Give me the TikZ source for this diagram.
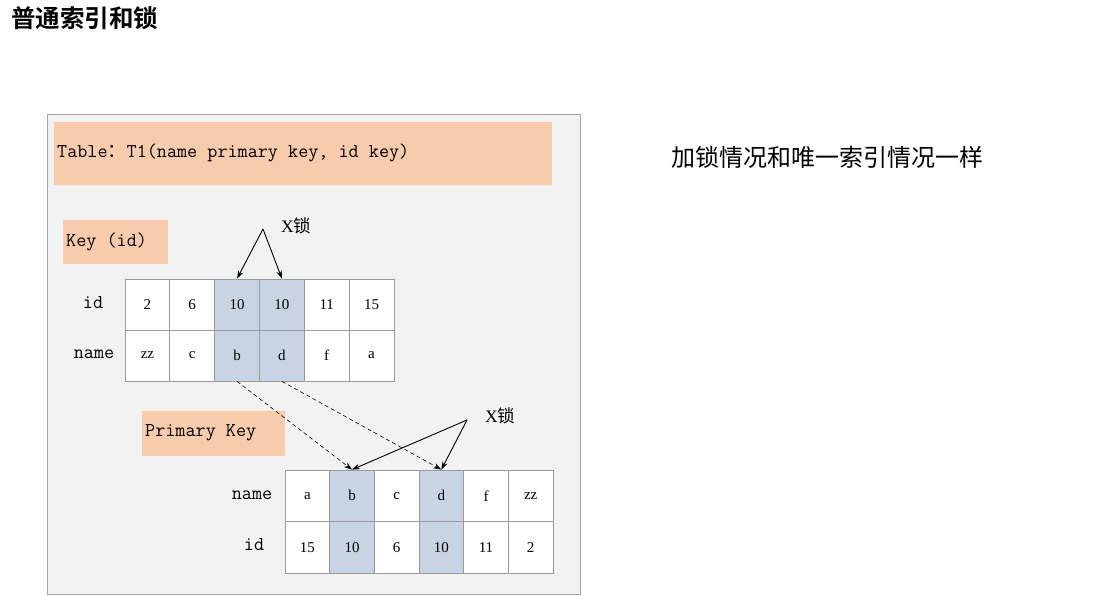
\documentclass[tikz,border=0pt]{standalone}
\usepackage{fontspec}
\setmainfont{Liberation Serif}
\newfontfamily\cjk{Noto Sans CJK SC}
\newfontfamily\cjkb{Noto Sans CJK SC Bold}
\usetikzlibrary{arrows.meta}
\definecolor{panel}{HTML}{F2F2F2}
\definecolor{panelline}{HTML}{A6A6A6}
\definecolor{peach}{HTML}{F8CBAD}
\definecolor{lockblue}{HTML}{C8D4E4}
\definecolor{cellline}{HTML}{9A9A9A}
\tikzset{
  cell/.style={draw=cellline, line width=0.8pt, fill=white, minimum width=44.8pt, minimum height=51pt, inner sep=0pt, font=\fontsize{15}{17}\selectfont},
  hot/.style={fill=lockblue},
  tag/.style={fill=peach, inner sep=0pt, anchor=north west},
  lbl/.style={font=\ttfamily\fontsize{19.6}{22}\selectfont, inner sep=0pt},
  lock/.style={font=\fontsize{17.5}{20}\selectfont, inner sep=0pt},
  arr/.style={-{Stealth[length=8pt,width=5.5pt]}, line width=0.9pt},
  darr/.style={-{Stealth[length=8pt,width=5.5pt]}, line width=0.6pt, dash pattern=on 4pt off 3pt},
}
\begin{document}
\begin{tikzpicture}[x=1pt,y=-1pt]
\useasboundingbox (0,0) rectangle (1109,596);
% title
\node[anchor=west, inner sep=0pt, font=\cjkb\fontsize{24.5}{27}\selectfont] (title) at (11,18) {普通索引和锁};
% right remark
\node[anchor=west, inner sep=0pt, font=\cjk\fontsize{24}{27}\selectfont] (remark) at (671,157) {加锁情况和唯一索引情况一样};
% panel
\node[draw=panelline, fill=panel, line width=0.8pt, minimum width=533pt, minimum height=480pt, anchor=north west, inner sep=0pt] (panel) at (47,114) {};
% header boxes
\node[tag, minimum width=498pt, minimum height=63pt] (hdr) at (54,122) {};
\node[lbl, anchor=west] (hdrtxt) at (57,153) {Table{\cjk\fontsize{19}{22}\selectfont ：}T1(name primary key, id key)};
\node[tag, minimum width=105pt, minimum height=44pt] (keybox) at (63,220) {};
\node[lbl, anchor=west] (keytxt) at (66,242) {Key (id)};
\node[tag, minimum width=143pt, minimum height=45pt] (pkbox) at (142,411) {};
\node[lbl, anchor=west] (pktxt) at (145,433) {Primary Key};
% table 1 (secondary index)
\node[lbl] (t1id) at (93,303) {id};
\node[lbl] (t1name) at (94,354) {name};
\foreach \v [count=\c] in {2,6,10,10,11,15} {
  \node[cell] (ta-1-\c) at ({125+44.83*(\c-0.5)},304.5) {\v};
}
\foreach \v [count=\c] in {zz,c,b,d,f,a} {
  \node[cell] (ta-2-\c) at ({125+44.83*(\c-0.5)},355.5) {\v};
}
\foreach \c in {3,4} {
  \node[cell, hot] at (ta-1-\c) {10};
}
\node[cell, hot] at (ta-2-3) {b};
\node[cell, hot] at (ta-2-4) {d};
% table 2 (primary key)
\node[lbl] (t2name) at (252,495) {name};
\node[lbl] (t2id) at (254,545) {id};
\foreach \v [count=\c] in {a,b,c,d,f,zz} {
  \node[cell, minimum height=51.5pt] (tb-1-\c) at ({285+44.67*(\c-0.5)},495.75) {\v};
}
\foreach \v [count=\c] in {15,10,6,10,11,2} {
  \node[cell, minimum height=51.5pt] (tb-2-\c) at ({285+44.67*(\c-0.5)},547.25) {\v};
}
\node[cell, hot, minimum height=51.5pt] at (tb-1-2) {b};
\node[cell, hot, minimum height=51.5pt] at (tb-1-4) {d};
\node[cell, hot, minimum height=51.5pt] at (tb-2-2) {10};
\node[cell, hot, minimum height=51.5pt] at (tb-2-4) {10};
% lock labels and arrows
\node[lock, anchor=west] (xa) at (281,226) {X{\cjk 锁}};
\coordinate (apexa) at (263,229);
\draw[arr] (apexa) -- (ta-1-3.north);
\draw[arr] (apexa) -- (ta-1-4.north);
\node[lock, anchor=west] (xb) at (485,416) {X{\cjk 锁}};
\coordinate (apexb) at (467,420);
\draw[arr] (apexb) -- (tb-1-2.north);
\draw[arr] (apexb) -- (tb-1-4.north);
% dashed pointers
\draw[darr] (ta-2-3.south) -- (tb-1-2.north);
\draw[darr] (ta-2-4.south) -- (tb-1-4.north);
\end{tikzpicture}
\end{document}
